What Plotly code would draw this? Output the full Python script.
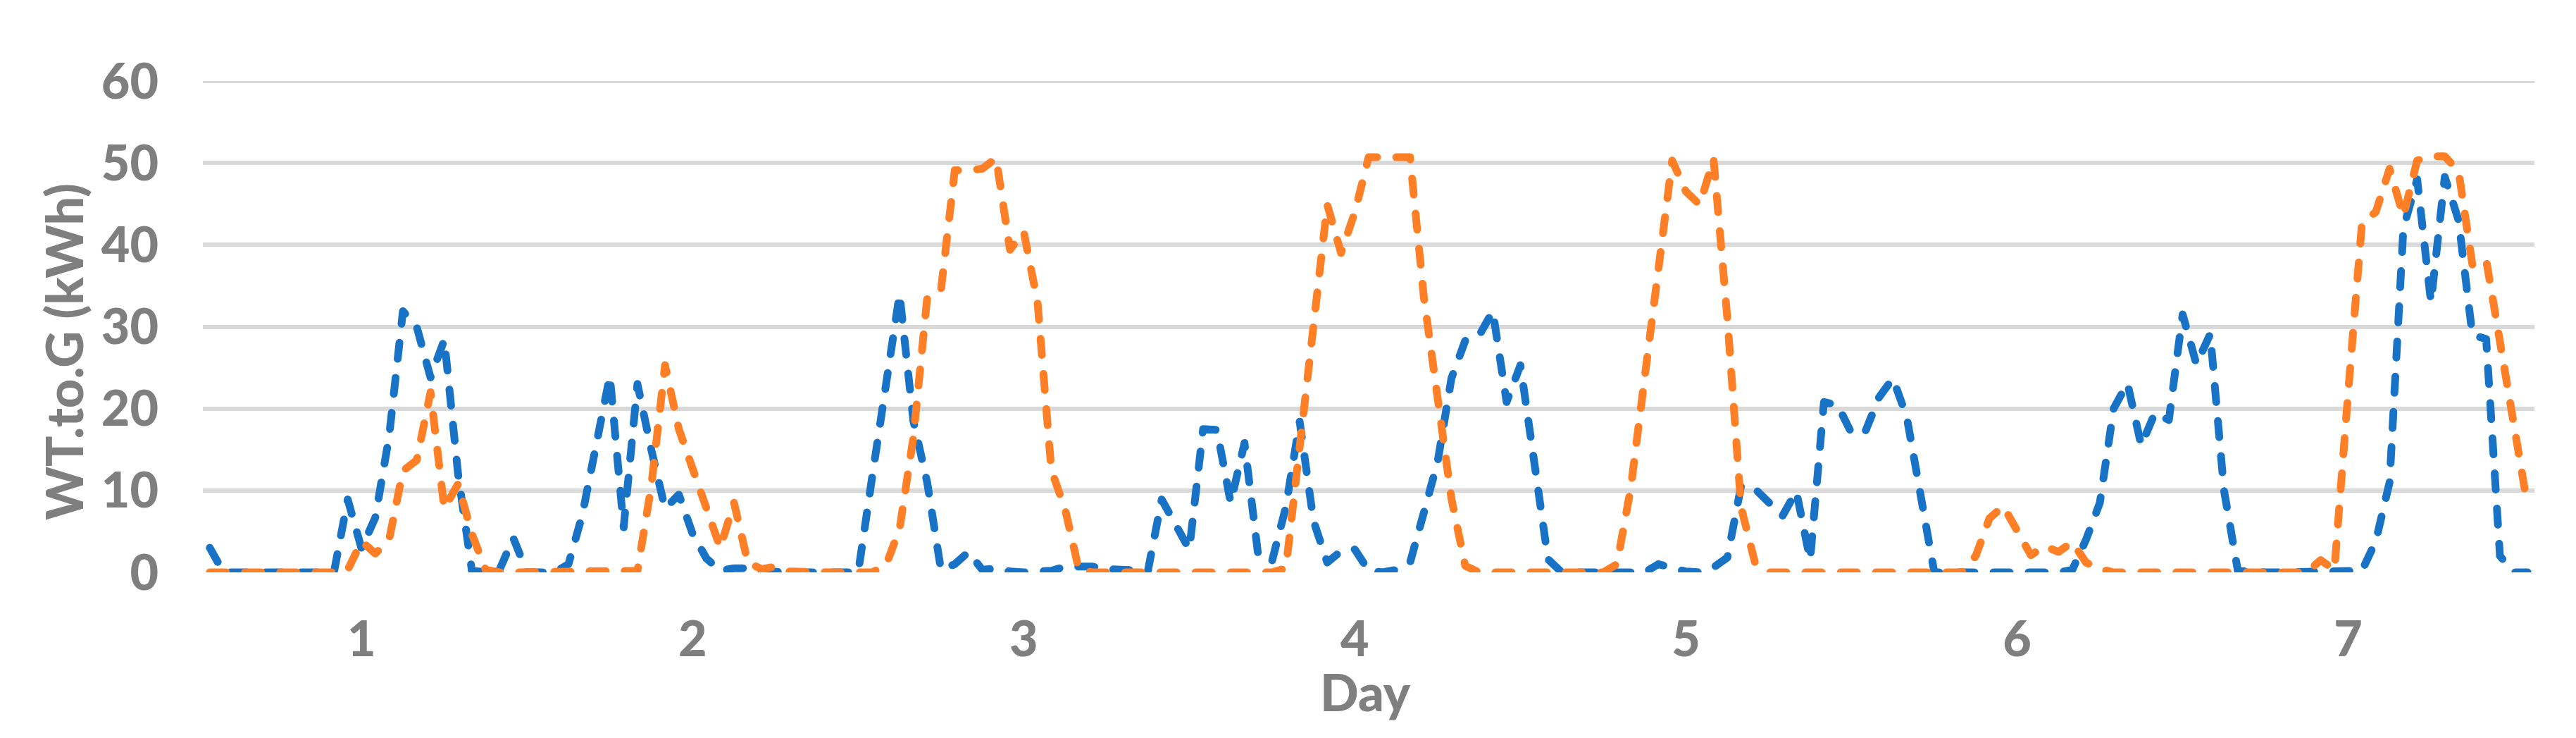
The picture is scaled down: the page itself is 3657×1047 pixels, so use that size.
import plotly.graph_objects as go

# hourly WT.to.G energy (kWh), 7 days, one point per hour (169 points)
wt_blue = [
    3.0, 0, 0, 0, 0, 0, 0, 0, 0, 0, 8.9, 2.9, 6.7, 16.6, 31.9, 30.0, 23.8, 28.4, 12.0, 0.2, 0, 0.3, 4.2, 0,
    0, 0, 1.0, 7.0, 15.5, 24.0, 5.5, 23.0, 15.0, 7.8, 9.5, 4.7, 1.7, 0.2, 0.5, 0.5, 0.1, 0, 0, 0, 0, 0, 0, 0,
    11.5, 23.0, 34.0, 18.5, 11.0, 0.3, 1.0, 2.5, 0.3, 0.5, 0.1, 0, 0, 0.2, 0.7, 0.7, 0.7, 0.4, 0.4, 0.4, 0.2, 8.9, 5.7, 2.8,
    17.5, 17.4, 8.5, 15.8, 2.0, 1.4, 8.0, 18.4, 6.3, 1.2, 2.6, 2.8, 0.2, 0, 0.3, 1.2, 7.3, 13.5, 23.7, 28.3, 28.9, 31.9, 20.8, 25.3,
    13.5, 1.6, 0, 0, 0, 0, 0, 0, 0, 1.0, 0.5, 0.1, 0, 0.6, 1.8, 10.6, 10.2, 8.6, 6.9, 9.9, 1.5, 20.8, 20.4, 17.0,
    17.2, 21.4, 23.7, 19.0, 9.5, 0, 0, 0, 0, 0, 0, 0, 0, 0, 0, 0.3, 4.0, 8.5, 20.0, 23.1, 15.5, 19.5, 18.6, 31.5,
    25.4, 29.1, 10.0, 0.2, 0, 0, 0, 0, 0, 0, 0, 0, 0.2, 3.8, 11.0, 42.0, 48.0, 33.0, 48.3, 43.0, 29.0, 28.5, 2.0, 0,
    0,
]

wt_orange = [
    0, 0, 0, 0, 0, 0, 0, 0, 0, 0, 0.3, 3.8, 2.3, 4.0, 12.4, 13.7, 22.0, 7.8, 10.8, 4.7, 0.3, 0, 0, 0,
    0, 0, 0, 0, 0, 0, 0, 0.2, 10.5, 25.3, 17.5, 12.8, 7.5, 3.0, 8.5, 1.2, 0.4, 0.7, 0.1, 0, 0, 0, 0, 0,
    0, 0.8, 5.3, 16.5, 33.5, 34.5, 49.1, 49.1, 49.3, 50.6, 39.4, 41.6, 33.0, 12.5, 7.7, 0.3, 0, 0, 0, 0, 0, 0, 0, 0,
    0, 0, 0, 0, 0, 0, 0.5, 15.2, 29.7, 44.9, 39.0, 44.0, 50.7, 50.7, 50.7, 50.7, 33.6, 21.0, 9.0, 0.8, 0, 0, 0, 0,
    0, 0, 0, 0, 0, 0, 1.0, 10.3, 23.7, 37.2, 50.3, 46.5, 44.9, 50.5, 31.0, 7.9, 1.2, 0, 0, 0, 0, 0, 0, 0,
    0, 0, 0, 0, 0, 0, 0, 0, 2.0, 6.6, 8.1, 5.3, 2.1, 3.2, 2.5, 3.7, 1.2, 0.4, 0, 0, 0, 0, 0, 0,
    0, 0, 0, 0, 0, 0, 0, 0, 0, 1.5, 0.3, 22.0, 42.7, 44.0, 49.3, 43.5, 50.3, 50.8, 50.8, 49.0, 37.6, 38.2, 28.0, 17.8,
    8.1,
]

day_labels = ['1', '2', '3', '4', '5', '6', '7']
day_label_hours = [11, 35, 59, 83, 107, 131, 155]
y_ticks = [0, 10, 20, 30, 40, 50, 60]

hours = list(range(len(wt_blue)))

colors = {'blue': '#1873C7', 'orange': '#FF7F27', 'text': '#7F7F7F', 'grid': '#D9D9D9'}
font_family = 'Lato, Open Sans, sans-serif'

fig = go.Figure()

fig.add_trace(go.Scatter(
    x=hours, y=wt_blue, mode='lines', name='Series 1',
    line=dict(color=colors['blue'], width=11, dash='23px,27px'),
))
fig.add_trace(go.Scatter(
    x=hours, y=wt_orange, mode='lines', name='Series 2',
    line=dict(color=colors['orange'], width=11, dash='23px,27px'),
))

fig.update_layout(
    width=3657, height=1047,
    margin=dict(l=280, r=67, t=107, b=243),
    paper_bgcolor='white', plot_bgcolor='white',
    showlegend=False,
    font=dict(family=font_family, color=colors['text']),
)

fig.update_xaxes(
    range=[-0.5, len(hours) - 0.5],
    tickvals=day_label_hours, ticktext=day_labels,
    tickfont=dict(size=70, weight=900, color=colors['text']),
    ticks='', showgrid=False, zeroline=False, showline=False,
    ticklabelstandoff=48,
)
fig.update_yaxes(
    range=[0, 60], tickvals=y_ticks,
    tickfont=dict(size=70, weight=900, color=colors['text']),
    ticks='', showgrid=True, gridcolor=colors['grid'], gridwidth=6,
    zeroline=False, showline=False,
    ticklabelstandoff=62,
)

# the top gridline sits on the range edge, plotly skips it
fig.add_hline(y=y_ticks[-1], line_color=colors['grid'], line_width=6, layer='below')

# axis titles placed as annotations
fig.add_annotation(
    text='WT.to.G (kWh)', textangle=-90, showarrow=False,
    xref='paper', yref='paper', x=-0.0598, y=0.449,
    xanchor='center', yanchor='middle',
    font=dict(size=72, weight=900, color=colors['text'], family=font_family),
)
fig.add_annotation(
    text='Day', showarrow=False,
    xref='paper', yref='paper', x=0.4985, y=-0.242,
    xanchor='center', yanchor='middle',
    font=dict(size=72, weight=900, color=colors['text'], family=font_family),
)

# rounded dash ends, like the original
post = """
var gd = document.getElementById('{plot_id}');
function roundCaps() {
  gd.querySelectorAll('.scatterlayer .js-line').forEach(function (p) {
    p.style.strokeLinecap = 'round';
    p.style.strokeLinejoin = 'round';
  });
}
roundCaps();
gd.on('plotly_afterplot', roundCaps);
"""

fig.write_html("out.html", post_script=post)
